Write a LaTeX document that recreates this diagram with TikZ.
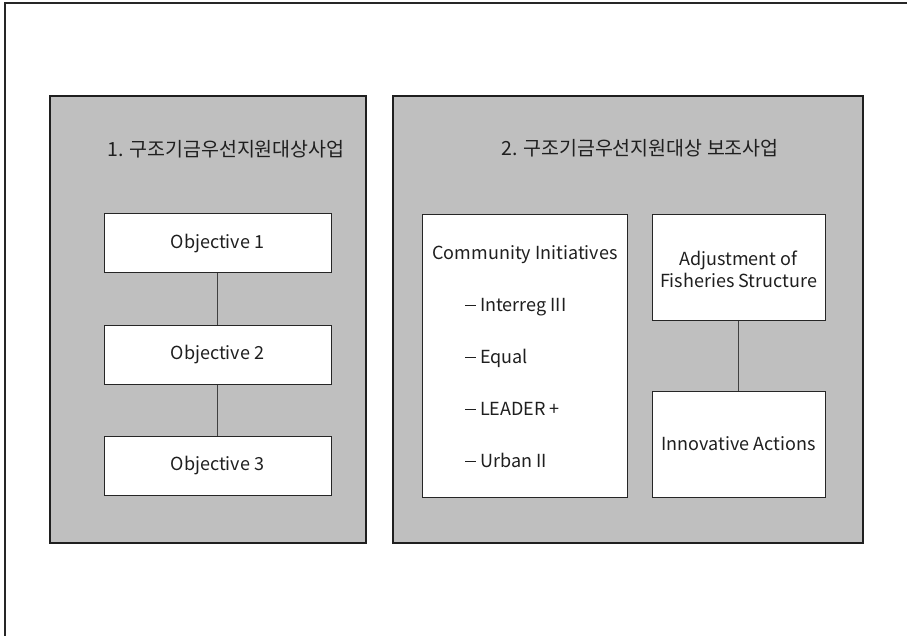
\documentclass[tikz,border=0pt]{standalone}
\usepackage{fontspec}
\setmainfont{Noto Sans CJK KR}
% long dash that opens each list entry
\newcommand{\listdash}{\rule[0.3em]{11pt}{0.9pt}\hspace{4pt}}
\begin{document}
\begin{tikzpicture}[x=1pt,y=-1pt,
  panel/.style={draw=black!88,line width=1.3pt,fill=black!25,inner sep=0pt},
  itembox/.style={draw=black!85,line width=1pt,fill=white,inner sep=0pt},
  title/.style={font=\fontsize{19.5}{22}\selectfont,text=black!88,inner sep=0pt},
  label/.style={font=\fontsize{18}{20}\selectfont,text=black!88,inner sep=0pt,align=center},
  link/.style={draw=black!75,line width=1pt}]
\useasboundingbox (0,0) rectangle (907,636);
% outer frame (top and left edges)
\draw[line width=1.3pt,black!85] (5,636) -- (5,3) -- (907,3);

% the two panels
\node[panel,minimum width=316pt,minimum height=447pt] (p1) at (208,319.5) {};
\node[panel,minimum width=470pt,minimum height=447pt] (p2) at (628,319.5) {};
\node[title] (t1) at (226,149) {1. 구조기금우선지원대상사업};
\node[title] (t2) at (640,148) {2. 구조기금우선지원대상 보조사업};

% objectives
\node[itembox,minimum width=227pt,minimum height=59pt] (o1) at (217.5,243.5) {};
\node[itembox,minimum width=227pt,minimum height=59pt] (o2) at (217.5,355) {};
\node[itembox,minimum width=227pt,minimum height=59pt] (o3) at (217.5,465.5) {};
\node[label] (lo1) at (o1) {Objective 1};
\node[label] (lo2) at (o2) {Objective 2};
\node[label] (lo3) at (o3) {Objective 3};
\draw[link] (o1.south) -- (o2.north);
\draw[link] (o2.south) -- (o3.north);

% community initiatives
\node[itembox,minimum width=205pt,minimum height=282pt] (ci) at (524.5,356) {};
\node[label] (cih) at (525,255) {Community Initiatives};
\node[label,anchor=west] (c1) at (465,307) {\listdash Interreg III};
\node[label,anchor=west] (c2) at (465,358) {\listdash Equal};
\node[label,anchor=west] (c3) at (465,409) {\listdash LEADER +};
\node[label,anchor=west] (c4) at (465,460) {\listdash Urban II};

% fisheries and innovative actions
\node[itembox,minimum width=173pt,minimum height=105pt] (af) at (738.5,267.5) {};
\node[itembox,minimum width=173pt,minimum height=106pt] (ia) at (738.5,444) {};
\node[label] (laf) at (738.5,269) {Adjustment of\\[2pt]Fisheries Structure};
\node[label] (lia) at (ia) {Innovative Actions};
\draw[link] (af.south) -- (ia.north);
\end{tikzpicture}
\end{document}
